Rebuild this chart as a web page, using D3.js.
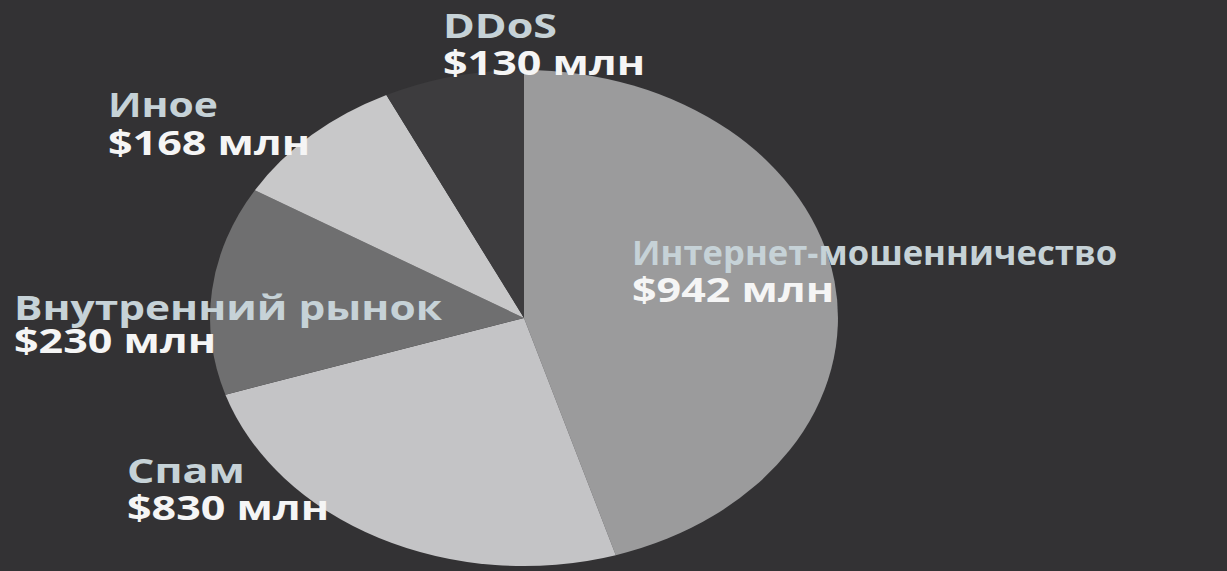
<!DOCTYPE html>
<html>
<head>
<meta charset="utf-8">
<script src="https://cdn.jsdelivr.net/npm/d3@7"></script>
<style>
    html, body { margin: 0; padding: 0; background: #333234; }
    #chart { width: 1227px; height: 571px; }
    .cat-label { fill: #c6d2d7; }
    .val-label { fill: #f5f5f5; }
    text { font-family: "Open Sans", sans-serif; font-weight: 700; font-size: 34px; }
</style>
</head>
<body>
<div id="chart"></div>
<script>

// categories, clockwise from 12 o'clock
const categories = ["Интернет-мошенничество", "Спам", "Внутренний рынок", "Иное", "DDoS"];
// amounts in the labels, $ mln
const amounts = [942, 830, 230, 168, 130];
// slice sizes as drawn in the picture (degrees, not proportional to amounts)
const sliceShares = [163, 89, 49, 33, 26];

const sliceColors = ["#9b9b9c", "#c4c4c6", "#6f6f70", "#c8c8c9", "#3d3c3e"];

class PieChart {

    constructor(parentElement) {
        this.parentElement = parentElement;
    }

    initVis() {
        let vis = this;

        vis.width = 1227;
        vis.height = 571;

        // the whole picture is stretched horizontally
        vis.stretch = 1.266;
        vis.radius = 248;
        vis.cx = 524 / vis.stretch;
        vis.cy = 318;

        // label anchors in picture pixels [x, baseline, line gap, max name width]
        vis.labelPos = [[632, 265, 37, 485], [127, 483, 37, 120], [14, 320, 33, 428], [108, 117, 38, 110], [443, 38, 37, 120]];

        vis.svg = d3.select("#" + vis.parentElement).append("svg")
            .attr("width", vis.width)
            .attr("height", vis.height)
            .append("g")
            .attr("transform", "scale(" + vis.stretch + ",1)");

        vis.color = d3.scaleOrdinal()
            .domain(categories)
            .range(sliceColors);

        vis.pie = d3.pie()
            .sort(null)
            .value(d => d.share);

        vis.arc = d3.arc()
            .innerRadius(0)
            .outerRadius(vis.radius);

        vis.wrangleData();
    }

    wrangleData() {
        let vis = this;

        vis.displayData = categories.map((c, i) => ({
            category: c,
            amount: amounts[i],
            share: sliceShares[i]
        }));

        vis.updateVis();
    }

    updateVis() {
        let vis = this;

        vis.svg.append("g")
            .attr("transform", "translate(" + vis.cx + "," + vis.cy + ")")
            .selectAll("path")
            .data(vis.pie(vis.displayData))
            .enter().append("path")
            .attr("d", vis.arc)
            .attr("fill", d => vis.color(d.data.category));

        let labels = vis.svg.selectAll(".label")
            .data(vis.displayData)
            .enter().append("g")
            .attr("class", "label")
            .attr("transform", (d, i) => "translate(" + vis.labelPos[i][0] / vis.stretch + "," + vis.labelPos[i][1] + ")");

        labels.append("text")
            .attr("class", "cat-label")
            .text(d => d.category)
            .each(function(d, i) {
                // squeeze names that run wider than in the picture
                let maxW = vis.labelPos[i][3] / vis.stretch;
                let w = this.getComputedTextLength();
                if (w > maxW) {
                    d3.select(this).attr("transform", "scale(" + (maxW / w) + ",1)");
                }
            });

        labels.append("text")
            .attr("class", "val-label")
            .attr("y", (d, i) => vis.labelPos[i][2])
            .text(d => "$" + d.amount + " млн");
    }
}

let chart = new PieChart("chart");
chart.initVis();

</script>
</body>
</html>
